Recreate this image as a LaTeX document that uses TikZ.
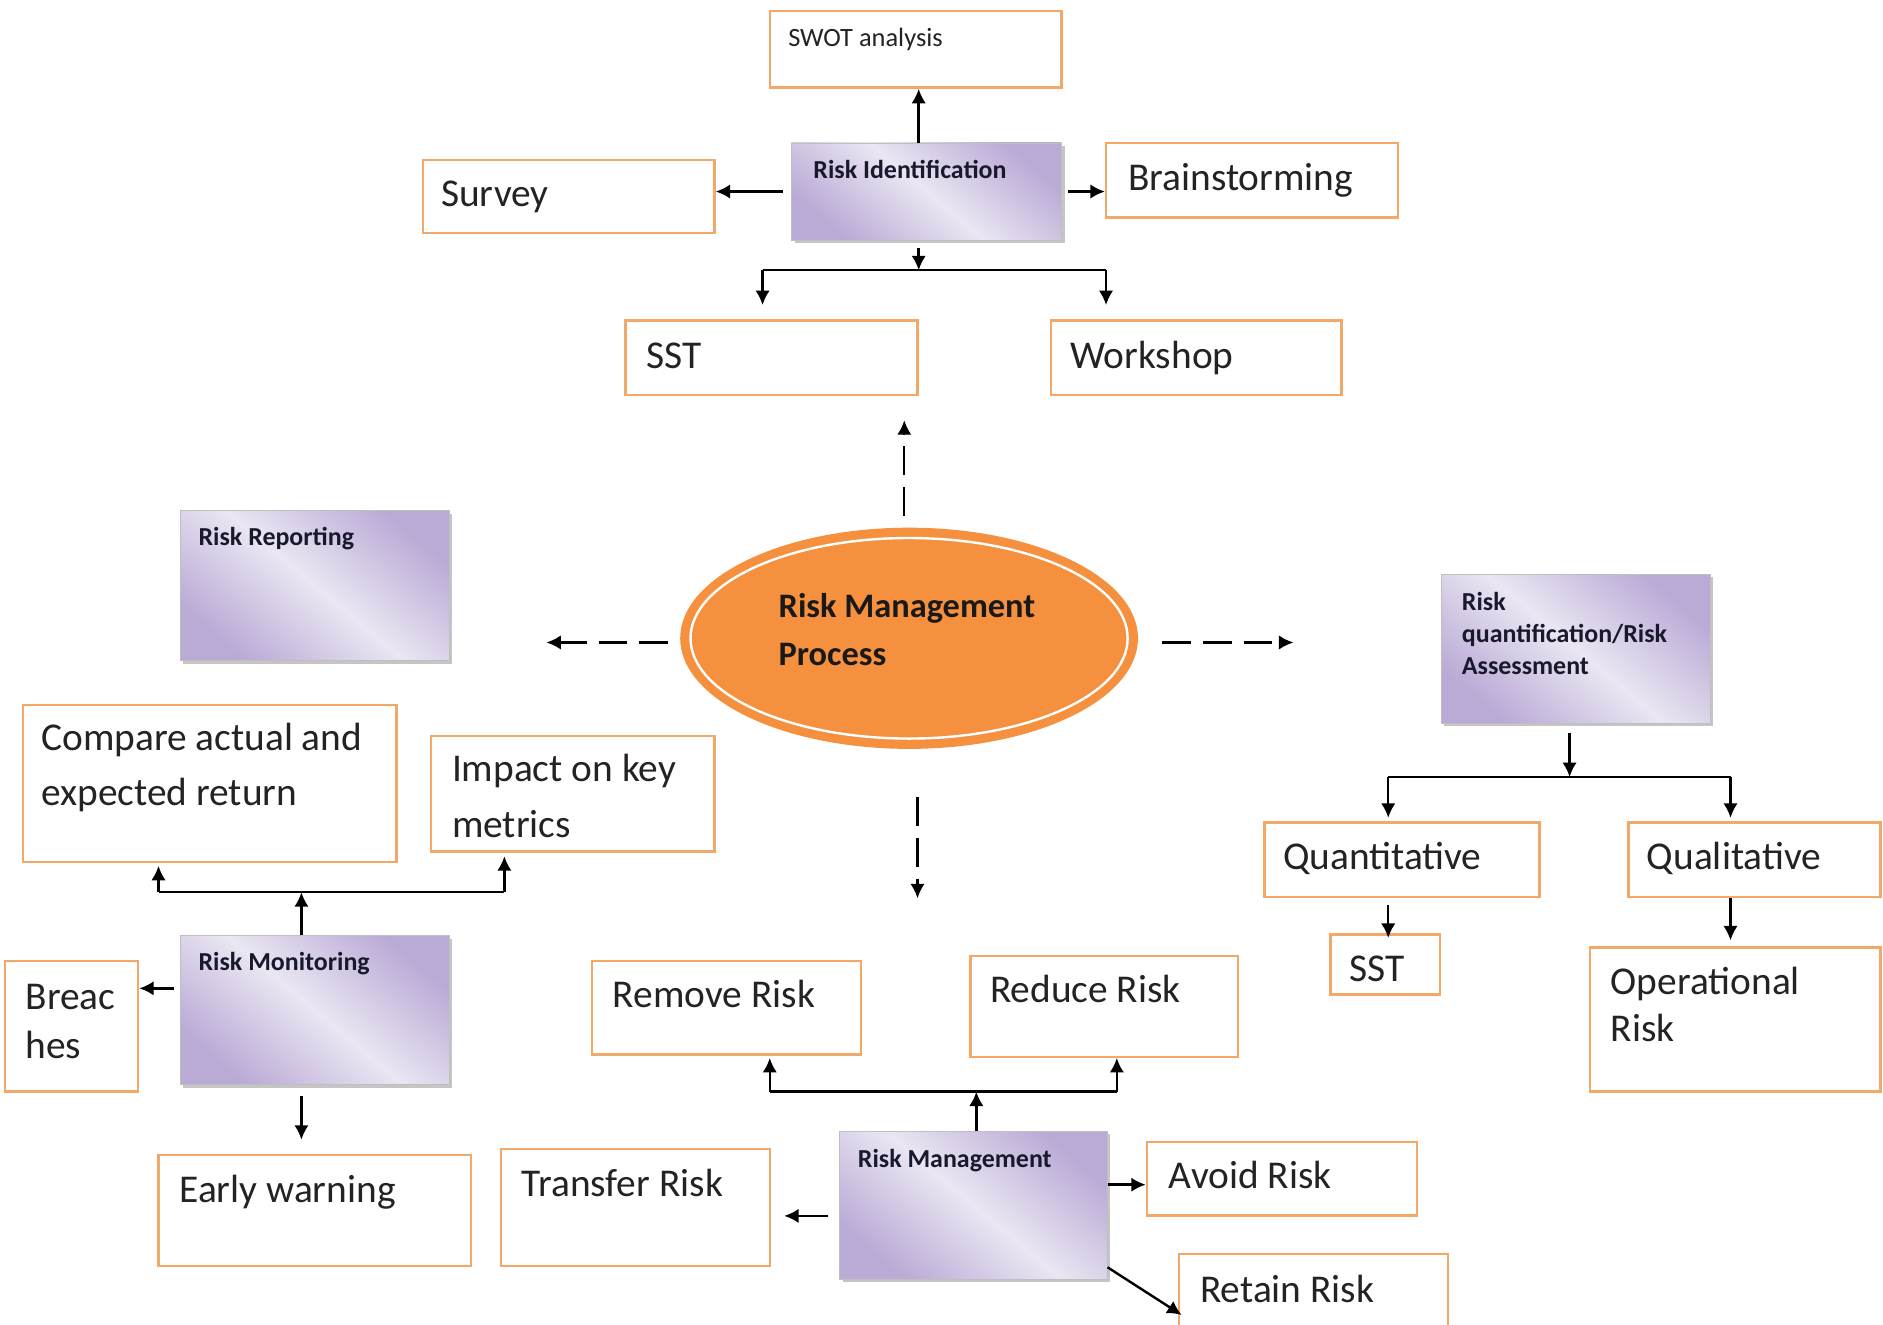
\documentclass[tikz,border=0pt]{standalone}
\usepackage{fontspec}
\setmainfont{Carlito}
\usetikzlibrary{arrows.meta,shapes.geometric,shadows,fit}

\definecolor{boxline}{RGB}{241,168,104}
\definecolor{orangefill}{RGB}{245,145,62}
\definecolor{lilacdark}{RGB}{186,170,214}
\definecolor{lilaclight}{RGB}{234,230,242}
\definecolor{ink}{RGB}{35,35,35}
\definecolor{inkdark}{RGB}{25,25,45}

\begin{document}
\begin{tikzpicture}[x=0.5pt,y=-0.5pt,
  obox/.style={draw=boxline, line width=1pt, fill=white, rectangle, inner sep=0pt},
  pbox/.style={rectangle, inner sep=0pt, draw=black!25, line width=0.3pt,
    top color=lilacdark, bottom color=lilacdark, middle color=lilaclight,
    shading angle=-40,
    drop shadow={shadow xshift=1.3pt, shadow yshift=-1.3pt, fill=black!45, opacity=0.5}},
  big/.style={font=\fontsize{16.4}{23}\selectfont, text=ink, anchor=base west, inner sep=0pt, align=left},
  small/.style={font=\fontsize{10.8}{13.5}\selectfont\bfseries, text=inkdark, anchor=base west, inner sep=0pt, align=left},
  conn/.style={line width=1pt, draw=black, -{Latex[length=6pt,width=6pt]}},
  plain/.style={line width=1pt, draw=black},
  dconn/.style={conn, dash pattern=on 12pt off 5pt},
]
\useasboundingbox (0,0) rectangle (1568,1103);
\clip (0,0) rectangle (1568,1103);

% ---------- central process ----------
\node[ellipse, fill=orangefill, draw=orangefill, line width=0.6pt,
      minimum width=190pt, minimum height=91.5pt, inner sep=0pt] (ell) at (757,531.5) {};
\draw[white, line width=1pt] (ell.center) ellipse [x radius=182, y radius=83.5];
% multi-line labels: the base anchor sits on the last line
\node[anchor=base west, inner sep=0pt, align=left, text=black!90,
      font=\fontsize{14.3}{20}\selectfont\bfseries] (ellT) at (648,554)
      {Risk Management\\Process};

% ---------- identification ----------
\node[obox, fit={(641,9)(884,73)}] (swot) {};
\node[font=\fontsize{11}{13}\selectfont, text=ink, anchor=base west, inner sep=0pt] (swotT) at (656,39) {SWOT analysis};

\node[pbox, fit={(659,119)(884,200)}] (rid) {};
\node[small] (ridT) at (677,149) {Risk Identification};

\node[obox, fit={(352,133)(595,194)}] (surv) {};
\node[big] (survT) at (367,172) {Survey};

\node[obox, fit={(921,119)(1164,181)}] (brain) {};
\node[big] (brainT) at (939,159) {Brainstorming};

\node[obox, fit={(521,267)(764,329)}] (sstA) {};
\node[big] (sstAT) at (538,307) {SST};

\node[obox, fit={(875,267)(1117,329)}] (work) {};
\node[big] (workT) at (891,307) {Workshop};

\coordinate (jt) at (765,225);
\coordinate (jtl) at (635,225);
\coordinate (jtr) at (921,225);
\draw[conn] (jt |- rid.north) -- (jt |- swot.south);
\draw[conn, shorten <=3.5pt] (rid.west) -- (rid.west -| surv.east);
\draw[conn, shorten <=2.5pt] (rid.east) -- (rid.east -| brain.west);
\draw[conn, shorten <=3pt] (jt |- rid.south) -- (jt);
\draw[plain] (jtl) -- (jtr);
\draw[conn, shorten >=6pt] (jtl) -- (jtl |- sstA.north);
\draw[conn, shorten >=6pt] (jtr) -- (jtr |- work.north);

% ---------- dashed links from the process ----------
\coordinate (dU) at (753,350);
\coordinate (dL) at (455,535);
\coordinate (dR) at (1077,535);
\coordinate (dD) at (764,748);
\draw[dconn, shorten <=5pt] (ell.north -| dU) -- (dU);
\draw[dconn, shorten <=5pt] (dL -| ell.west) -- (dL);
\draw[dconn, shorten <=10pt] (dR -| ell.east) -- (dR);
\draw[dconn, shorten <=20pt] (ell.south -| dD) -- (dD);

% ---------- reporting ----------
\node[pbox, fit={(150,425)(374,550)}] (rrep) {};
\node[small] (rrepT) at (165,454) {Risk Reporting};

% ---------- quantification ----------
\node[pbox, fit={(1200,478)(1424,602)}] (rq) {};
\node[small] (rqT) at (1217,562) {Risk\\quantification/Risk\\Assessment};

\node[obox, fit={(1053,685)(1282,747)}] (quant) {};
\node[big] (quantT) at (1068,724) {Quantitative};

\node[obox, fit={(1356,685)(1566,747)}] (qual) {};
\node[big] (qualT) at (1371,724) {Qualitative};

\node[obox, fit={(1108,778)(1199,828)}] (sstB) {};
\node[big] (sstBT) at (1123,817) {SST};

\node[obox, fit={(1324,789)(1566,909)}] (oper) {};
\node[big, font=\fontsize{16.4}{19.5}\selectfont] (operT) at (1341,867) {Operational\\Risk};

\coordinate (jq) at (1307,647);
\coordinate (jql) at (1156,647);
\coordinate (jqr) at (1441,647);
\draw[conn, shorten <=4pt] (jq |- rq.south) -- (jq);
\draw[plain] (jql) -- (jqr);
\draw[conn, shorten >=1.5pt] (jql) -- (jql |- quant.north);
\draw[conn, shorten >=1.5pt] (jqr) -- (jqr |- qual.north);
\draw[conn, shorten <=3pt, shorten >=-2pt] (jql |- quant.south) -- (jql |- sstB.north);
\draw[conn, shorten >=2.5pt] (jqr |- qual.south) -- (jqr |- oper.north);

% ---------- monitoring ----------
\node[obox, fit={(19,587)(330,718)}] (cmp) {};
\node[big] (cmpT) at (34,671) {Compare actual and\\expected return};

\node[obox, fit={(359,613)(595,709)}] (imp) {};
\node[big] (impT) at (376,697) {Impact on key\\metrics};

\node[pbox, fit={(150,779)(374,903)}] (rmon) {};
\node[small] (rmonT) at (165,808) {Risk Monitoring};

\node[obox, fit={(4,800)(115,909)}] (brch) {};
\node[big, font=\fontsize{16.4}{20}\selectfont] (brchT) at (21,881) {Breac\\hes};

\node[obox, fit={(132,962)(392,1054)}] (early) {};
\node[big] (earlyT) at (149,1001) {Early warning};

\coordinate (jm) at (251,743);
\coordinate (jml) at (132,743);
\coordinate (jmr) at (420,743);
\draw[conn] (jm |- rmon.north) -- (jm);
\draw[plain] (jml) -- (jmr);
\draw[conn, shorten >=1pt] (jml) -- (jml |- cmp.south);
\draw[conn, shorten >=1.5pt] (jmr) -- (jmr |- imp.south);
\draw[conn, shorten <=2.5pt] ([yshift=9pt]rmon.west) -- ([yshift=9pt]rmon.west -| brch.east);
\draw[conn, shorten <=4.5pt, shorten >=6pt] (jm |- rmon.south) -- (jm |- early.north);

% ---------- management ----------
\node[obox, fit={(493,800)(717,878)}] (remv) {};
\node[big] (remvT) at (510,839) {Remove Risk};

\node[obox, fit={(808,796)(1031,880)}] (redu) {};
\node[big] (reduT) at (824,835) {Reduce Risk};

\node[obox, fit={(417,957)(641,1054)}] (trans) {};
\node[big] (transT) at (434,996) {Transfer Risk};

\node[pbox, fit={(699,942)(922,1065)}] (rmg) {};
\node[small] (rmgT) at (714,972) {Risk Management};

\node[obox, fit={(955,951)(1180,1012)}] (avoid) {};
\node[big] (avoidT) at (973,990) {Avoid Risk};

\node[obox, fit={(982,1044)(1206,1112)}] (retain) {};
\node[big] (retainT) at (999,1085) {Retain Risk};

\coordinate (jg) at (813,909);
\coordinate (jgl) at (641,909);
\coordinate (jgr) at (930,909);
\draw[conn] (jg |- rmg.north) -- (jg);
\draw[plain] (jgl) -- (jgr);
\draw[conn, shorten >=1pt] (jgl) -- (jgl |- remv.south);
\draw[conn] (jgr) -- (jgr |- redu.south);
\draw[conn, shorten <=4.5pt, shorten >=5.5pt] ([yshift=-4.5pt]rmg.west) -- ([yshift=-4.5pt]rmg.west -| trans.east);
\draw[conn] ([yshift=8.5pt]rmg.east) -- ([yshift=8.5pt]rmg.east -| avoid.west);
\draw[conn] ([yshift=5pt]rmg.south east) -- ([yshift=-8.5pt, xshift=1.5pt]retain.west);
\end{tikzpicture}
\end{document}
